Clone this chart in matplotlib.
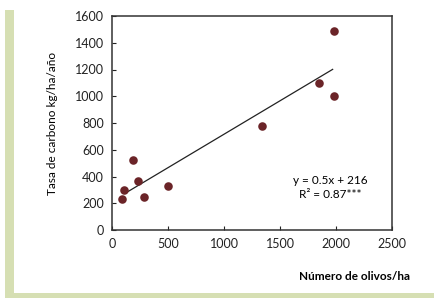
import matplotlib
matplotlib.use("Agg")
import matplotlib.pyplot as plt
from matplotlib.patches import Rectangle

# data
olivos = [85, 105, 190, 230, 285, 500, 1340, 1850, 1980, 1980]
carbono = [230, 300, 525, 365, 250, 330, 780, 1100, 1000, 1490]
slope, intercept = 0.5, 216
line_x = [120, 1970]
x_ticks = [0, 500, 1000, 1500, 2000, 2500]
y_ticks = [0, 200, 400, 600, 800, 1000, 1200, 1400, 1600]

plt.rcParams['font.family'] = ['Lato', 'DejaVu Sans']

fig = plt.figure(figsize=(4.34, 2.98), dpi=100)
fig.patch.set_facecolor("white")

# green frame on left and bottom
green = "#d6dfb3"
fig.add_artist(Rectangle((5 / 434, 0), 9 / 434, 1 - 10 / 298, transform=fig.transFigure,
                         color=green, lw=0))
fig.add_artist(Rectangle((5 / 434, 0), 1, 5 / 298, transform=fig.transFigure,
                         color=green, lw=0))

ax = fig.add_axes([112 / 434, 68 / 298, 280 / 434, 214 / 298])
ax.scatter(olivos, carbono, s=38, color="#6b2428", zorder=3, linewidths=0)
ax.plot(line_x, [slope * v + intercept for v in line_x], color="#222222", lw=0.9, zorder=2)

ax.set_xlim(0, 2500)
ax.set_ylim(0, 1600)
ax.set_xticks(x_ticks)
ax.set_yticks(y_ticks)
ax.tick_params(direction="in", length=3, width=0.8, labelsize=9, colors="#222222", pad=6)
for s in ax.spines.values():
    s.set_linewidth(1.1)
    s.set_color("#333333")

ax.text(0.78, 0.229, "y = 0.5x + 216", transform=ax.transAxes, fontsize=8.5, ha="center", va="center")
ax.text(0.78, 0.168, "R² = 0.87***", transform=ax.transAxes, fontsize=8.5, ha="center", va="center")

fig.text(53 / 434, 1 - 123 / 298, "Tasa de carbono kg/ha/año", rotation=90, fontsize=8.5,
         ha="center", va="center")
fig.text(410 / 434, 1 - 276 / 298, "Número de olivos/ha", fontsize=8.5, fontweight="bold",
         ha="right", va="center")

fig.savefig("out.png", dpi=100)
